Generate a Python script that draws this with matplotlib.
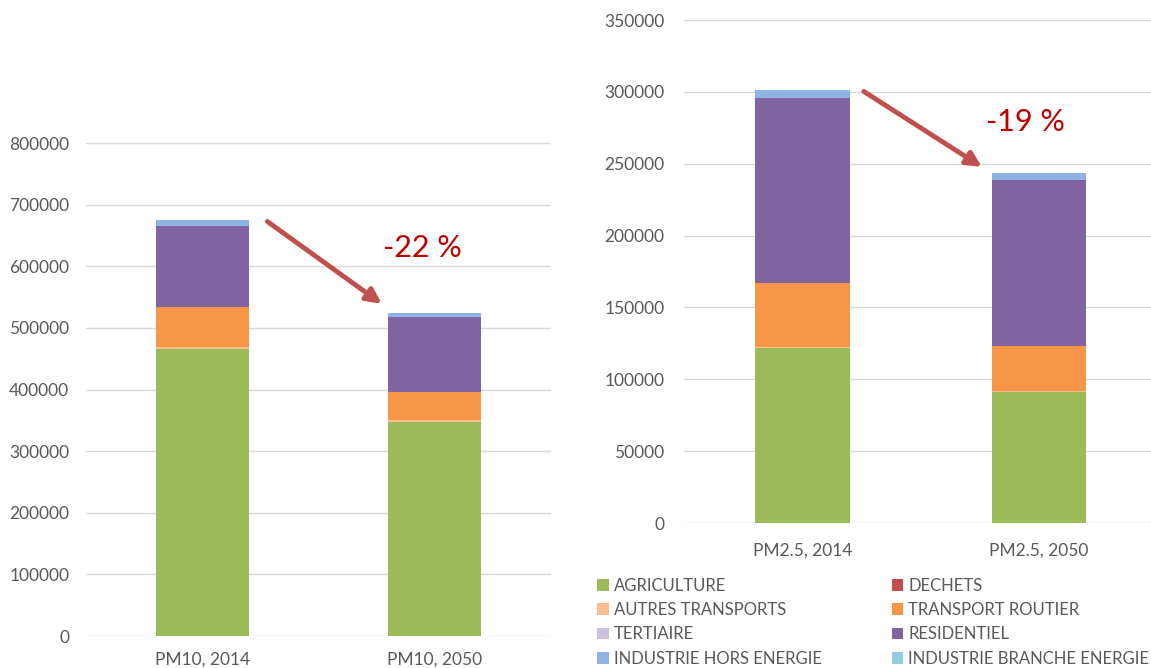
import numpy as np
import matplotlib.pyplot as plt
from matplotlib.patches import Patch

plt.rcParams['font.family'] = ['Lato', 'DejaVu Sans']

# sectors, bottom to top of each stack
sectors = ["AGRICULTURE", "DECHETS", "AUTRES TRANSPORTS", "TRANSPORT ROUTIER",
           "TERTIAIRE", "RESIDENTIEL", "INDUSTRIE HORS ENERGIE", "INDUSTRIE BRANCHE ENERGIE"]
colors = ["#9bbb59", "#c0504d", "#fac090", "#f79646",
          "#ccc1da", "#8064a2", "#8eb4e3", "#93cddd"]

pm10_labels = ["PM10, 2014", "PM10, 2050"]
pm10 = {
    "AGRICULTURE": [466000, 348000],
    "DECHETS": [0, 0],
    "AUTRES TRANSPORTS": [2500, 2500],
    "TRANSPORT ROUTIER": [66000, 46000],
    "TERTIAIRE": [0, 0],
    "RESIDENTIEL": [131500, 121000],
    "INDUSTRIE HORS ENERGIE": [9700, 6500],
    "INDUSTRIE BRANCHE ENERGIE": [0, 0],
}

pm25_labels = ["PM2.5, 2014", "PM2.5, 2050"]
pm25 = {
    "AGRICULTURE": [121500, 91000],
    "DECHETS": [0, 0],
    "AUTRES TRANSPORTS": [1000, 700],
    "TRANSPORT ROUTIER": [44300, 31500],
    "TERTIAIRE": [0, 0],
    "RESIDENTIEL": [128700, 115500],
    "INDUSTRIE HORS ENERGIE": [5800, 5100],
    "INDUSTRIE BRANCHE ENERGIE": [0, 0],
}

pm10_change = "-22 %"
pm25_change = "-19 %"

grey = "#595959"
red = "#c0504d"


def stacked(ax, labels, data, ymax, step, xpad):
	x = np.arange(len(labels))
	bottom = np.zeros(len(labels))
	for name, c in zip(sectors, colors):
		vals = np.array(data[name], dtype=float)
		ax.bar(x, vals, 0.4, bottom=bottom, color=c, edgecolor="none", zorder=2)
		bottom += vals
	ax.set_xlim(-0.5, 1.5)
	ax.set_ylim(0, ymax)
	ax.set_yticks(np.arange(0, ymax + 1, step))
	ax.set_xticks(x)
	ax.set_xticklabels(labels)
	ax.yaxis.grid(True, color="#d9d9d9", lw=1, zorder=0)
	for s in ax.spines.values():
		s.set_visible(False)
	ax.tick_params(axis="both", length=0, colors=grey, labelsize=12.5)
	ax.tick_params(axis="x", pad=xpad)
	return bottom


fig = plt.figure(figsize=(11.51, 6.68), dpi=100)

ax1 = fig.add_axes([0.0747, 0.0479, 0.404, 0.738])
tot10 = stacked(ax1, pm10_labels, pm10, 800000, 100000, 11)
ax1.tick_params(axis="y", pad=12)
ax1.annotate("", xy=(0.772, tot10[1] + 15000), xytext=(0.28, tot10[0] - 3000),
             arrowprops=dict(arrowstyle="-|>", lw=3.5, color=red, mutation_scale=22,
                             shrinkA=0, shrinkB=0), zorder=5)
ax1.text(0.948, 630000, pm10_change, color="#c00000", fontsize=22,
         ha="center", va="center")

ax2 = fig.add_axes([0.5943, 0.217, 0.411, 0.753])
tot25 = stacked(ax2, pm25_labels, pm25, 350000, 50000, 14)
ax2.tick_params(axis="y", pad=14)
ax2.annotate("", xy=(0.759, tot25[1] + 4000), xytext=(0.26, tot25[0] - 1000),
             arrowprops=dict(arrowstyle="-|>", lw=3.5, color=red, mutation_scale=22,
                             shrinkA=0, shrinkB=0), zorder=5)
ax2.text(0.945, 279000, pm25_change, color="#c00000", fontsize=22,
         ha="center", va="center")

# legend: row-wise order in two columns
order = [0, 2, 4, 6, 1, 3, 5, 7]
handles = [Patch(facecolor=colors[i], edgecolor="none") for i in order]
names = [sectors[i] for i in order]
fig.legend(handles, names, ncol=2, loc="upper left", bbox_to_anchor=(0.513, 0.145),
           frameon=False, fontsize=12, labelcolor=grey, handlelength=0.7,
           handleheight=0.7, handletextpad=0.3, columnspacing=4.2,
           labelspacing=0.5, borderaxespad=0)

fig.savefig("out.png", dpi=100)
